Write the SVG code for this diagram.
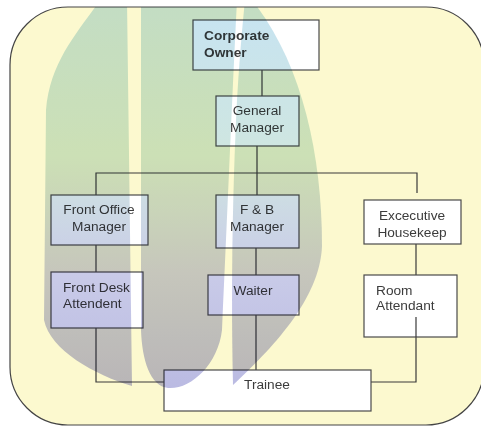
<svg xmlns="http://www.w3.org/2000/svg" width="481" height="426" viewBox="0 0 481 426">
<defs>
<style>
.box{fill:#ffffff;stroke:#4a4a4a;stroke-width:1.2}
.ln{fill:none;stroke:#3a3a3a;stroke-width:1.2}
.t{font-family:"Liberation Sans",Arial,sans-serif;font-size:13.7px;fill:#3c3c3c}
.c{text-anchor:middle}
.b{font-weight:bold}
#watermark{mix-blend-mode:multiply}
</style>
<linearGradient id="wg" gradientUnits="userSpaceOnUse" x1="0" y1="0" x2="0" y2="390">
<stop offset="0" stop-color="#c6e3f2"/>
<stop offset="0.4" stop-color="#cfe6e0"/>
<stop offset="0.7" stop-color="#c9cbe8"/>
<stop offset="1" stop-color="#babae2"/>
</linearGradient>
<clipPath id="frame"><rect x="10" y="7" width="474" height="418" rx="58"/></clipPath>
</defs>
<rect width="481" height="426" fill="#ffffff"/>
<rect x="10" y="7" width="474" height="418" rx="58" fill="#fcf9cf" stroke="#444" stroke-width="1.2"/>

<g id="connectors">
<path class="ln" d="M262 70V96"/>
<path class="ln" d="M257 146V195M96 195V173H417V193"/>
<path class="ln" d="M96 245V272"/>
<path class="ln" d="M256 248V275"/>
<path class="ln" d="M416 244V275"/>
<path class="ln" d="M96 328V382H164"/>
<path class="ln" d="M256 315V370"/>
<path class="ln" d="M416 317V382H371"/>
</g>

<g id="corporate-owner"><rect class="box" x="193" y="20" width="126" height="50"/>
<text class="t b" x="204" y="40">Corporate</text><text class="t b" x="204" y="57">Owner</text></g>
<g id="general-manager"><rect class="box" x="216" y="96" width="83" height="50"/>
<text class="t c" x="257" y="115">General</text><text class="t c" x="257" y="132">Manager</text></g>
<g id="front-office-manager"><rect class="box" x="51" y="195" width="97" height="50"/>
<text class="t c" x="99" y="214">Front Office</text><text class="t c" x="99" y="231">Manager</text></g>
<g id="fb-manager"><rect class="box" x="216" y="195" width="83" height="53"/>
<text class="t c" x="257" y="214">F &amp; B</text><text class="t c" x="257" y="231">Manager</text></g>
<g id="executive-housekeep"><rect class="box" x="364" y="200" width="97" height="44"/>
<text class="t c" x="412" y="220">Excecutive</text><text class="t c" x="412" y="237">Housekeep</text></g>
<g id="front-desk-attendent"><rect class="box" x="51" y="272" width="92" height="56"/>
<text class="t" x="63" y="292">Front Desk</text><text class="t" x="63" y="308">Attendent</text></g>
<g id="waiter"><rect class="box" x="208" y="275" width="91" height="40"/>
<text class="t c" x="253" y="295">Waiter</text></g>
<g id="room-attendant"><rect class="box" x="364" y="275" width="93" height="62"/>
<text class="t" x="376" y="295">Room</text><text class="t" x="376" y="310">Attendant</text></g>
<path class="ln" d="M416 317V337"/>
<g id="trainee"><rect class="box" x="164" y="370" width="207" height="41"/>
<text class="t c" x="267" y="389">Trainee</text></g>

<g id="watermark" clip-path="url(#frame)" fill="url(#wg)">
<path d="M100 0C80 30 50 60 46 110L44 320C50 350 95 375 132 386L127 0Z"/>
<path d="M141 0L237 0C232 100 228 200 222 330C218 365 190 390 168 388C150 386 142 360 141 330Z"/>
<path d="M245 0L252 0C300 60 322 150 322 246C320 300 270 350 233 385C231 300 232 200 237 100C240 50 243 20 245 0Z"/>
</g>
</svg>
